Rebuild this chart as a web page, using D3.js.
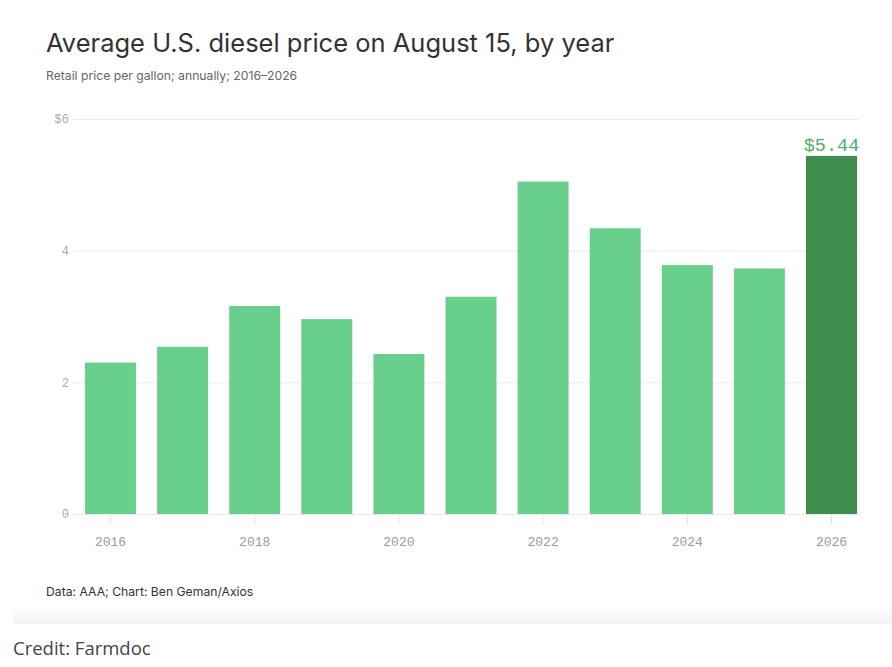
<!DOCTYPE html>
<html>
<head>
<meta charset="utf-8">
<script src="https://cdn.jsdelivr.net/npm/d3@7"></script>
<style>
  html, body { margin: 0; padding: 0; background: #fff; }
  svg { display: block; }
</style>
</head>
<body>
<svg></svg>
<script>
// data
let years = ["2016", "2017", "2018", "2019", "2020", "2021", "2022", "2023", "2024", "2025", "2026"];
let prices = [2.30, 2.54, 3.16, 2.96, 2.43, 3.30, 5.05, 4.34, 3.78, 3.73, 5.44];
let yTicks = [0, 2, 4, 6];
let xTickLabels = ["2016", "2018", "2020", "2022", "2024", "2026"];
let highlightYear = "2026";

let svgWidth = 892,
    svgHeight = 667;

let svg = d3.select("svg")
    .attr("width", svgWidth)
    .attr("height", svgHeight);

// card shadow at the bottom of the chart card
let grad = svg.append("defs").append("linearGradient")
    .attr("id", "shade").attr("x1", 0).attr("x2", 0).attr("y1", 0).attr("y2", 1);
grad.append("stop").attr("offset", "0%").attr("stop-color", "#fff");
grad.append("stop").attr("offset", "100%").attr("stop-color", "#f3f3f3");
svg.append("rect")
    .attr("x", 13).attr("y", 606)
    .attr("width", svgWidth - 13).attr("height", 18)
    .attr("fill", "url(#shade)");

// titles
svg.append("text")
    .attr("x", 46).attr("y", 52)
    .attr("font-family", "Inter, sans-serif")
    .attr("font-size", 25.5)
    .attr("fill", "#333")
    .text("Average U.S. diesel price on August 15, by year");

svg.append("text")
    .attr("x", 46).attr("y", 80)
    .attr("font-family", "Inter, sans-serif")
    .attr("font-size", 12.2)
    .attr("fill", "#666")
    .text("Retail price per gallon; annually; 2016–2026");

// scales
let x = d3.scaleBand()
    .domain(years)
    .range([85, 857])
    .paddingInner(0.293)
    .paddingOuter(0);

let y = d3.scaleLinear()
    .domain([0, 6])
    .range([514, 119]);

// y grid + labels
let yAxis = svg.append("g")
    .attr("transform", "translate(73,0)")
    .call(d3.axisLeft(y)
        .tickValues(yTicks)
        .tickSize(-(860 - 73))
        .tickPadding(4)
        .tickFormat(d => d === 6 ? "$" + d : d));
yAxis.select(".domain").remove();
yAxis.selectAll(".tick line").attr("stroke", "#ebebeb");
yAxis.selectAll(".tick text")
    .attr("font-family", "'Liberation Mono', monospace")
    .attr("font-size", 12)
    .attr("fill", "#aaa");

// x axis
let xAxis = svg.append("g")
    .attr("transform", "translate(0," + y(0) + ")")
    .call(d3.axisBottom(x)
        .tickValues(xTickLabels)
        .tickSize(11)
        .tickPadding(12));
xAxis.select(".domain").remove();
xAxis.selectAll(".tick line").attr("stroke", "#e3e3e3");
xAxis.selectAll(".tick text")
    .attr("font-family", "'Liberation Mono', monospace")
    .attr("font-size", 13)
    .attr("fill", "#999");

// bars
svg.append("g")
    .selectAll("rect")
    .data(years).enter()
    .append("rect")
        .attr("x", d => x(d))
        .attr("width", x.bandwidth())
        .attr("y", (d, i) => y(prices[i]))
        .attr("height", (d, i) => y(0) - y(prices[i]))
        .attr("fill", d => d === highlightYear ? "#3f8d4d" : "#69cf8c");

// value label on the last bar
let hi = years.indexOf(highlightYear);
svg.append("text")
    .attr("x", x(highlightYear) + x.bandwidth() / 2)
    .attr("y", y(prices[hi]) - 5)
    .attr("text-anchor", "middle")
    .attr("font-family", "'Liberation Mono', monospace")
    .attr("font-size", 18.5)
    .attr("fill", "#4fae68")
    .text("$" + prices[hi].toFixed(2));

// footers
svg.append("text")
    .attr("x", 46).attr("y", 596)
    .attr("font-family", "Inter, sans-serif")
    .attr("font-size", 12.2)
    .attr("fill", "#333")
    .text("Data: AAA; Chart: Ben Geman/Axios");

svg.append("text")
    .attr("x", 13).attr("y", 655)
    .attr("font-family", "'Open Sans', sans-serif")
    .attr("font-size", 18.5)
    .attr("fill", "#444")
    .text("Credit: Farmdoc");
</script>
</body>
</html>
